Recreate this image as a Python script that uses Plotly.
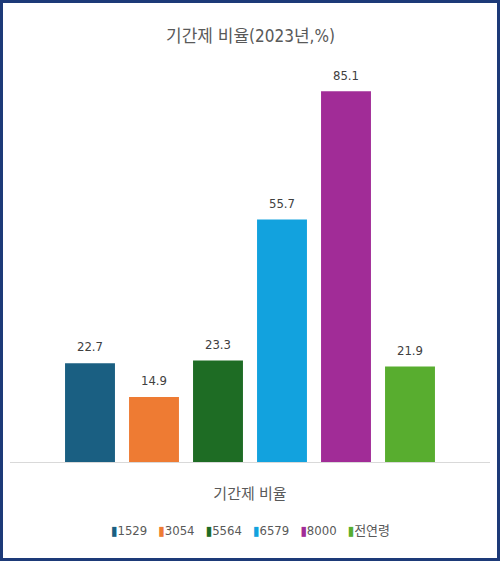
import plotly.graph_objects as go

# 기간제 비율 (2023년, %) by age group
category = "기간제 비율"
groups = ["1529", "3054", "5564", "6579", "8000", "전연령"]
values = [22.7, 14.9, 23.3, 55.7, 85.1, 21.9]
colors = ["#1a5f82", "#ee7b33", "#1e6c24", "#12a2de", "#a12c97", "#58ad2f"]

W, H = 501, 562
M_L, M_R, M_T, M_B = 10, 11, 70, 100
FONT = "DejaVu Sans Condensed, Noto Sans CJK KR, sans-serif"
GRAY = "#595959"

fig = go.Figure()
for g, v, c in zip(groups, values, colors):
    fig.add_trace(go.Bar(
        x=[category], y=[v], name=g, offsetgroup=g,
        marker=dict(color=c, line=dict(width=0)),
        showlegend=False,
    ))
# value labels: grouped text-only points sitting on top of each bar
for g, v in zip(groups, values):
    fig.add_trace(go.Scatter(
        x=[category], y=[v], offsetgroup=g, mode="markers+text",
        marker=dict(size=12, opacity=0), text=[f"{v:.1f}"],
        textposition="top center",
        textfont=dict(family=FONT, size=13, color="#404040"),
        cliponaxis=False, showlegend=False, hoverinfo="skip",
    ))

# legend line drawn as text: colored bar glyph + group name
legend_text = "&nbsp;&nbsp;&nbsp;".join(
    f"<span style='color:{c}'>▮</span>{g}" for g, c in zip(groups, colors)
)

plot_w = W - M_L - M_R
fig.update_layout(
    width=W, height=H,
    margin=dict(l=M_L, r=M_R, t=M_T, b=M_B),
    paper_bgcolor="white", plot_bgcolor="white",
    barmode="group", bargap=0.2, bargroupgap=0.22,
    scattermode="group", scattergap=0.2,
    title=dict(text="기간제 비율(2023년,%)", x=0.5, xanchor="center",
               y=1 - 36 / H, yanchor="middle", yref="container",
               font=dict(family=FONT, size=17, color=GRAY)),
    xaxis=dict(showline=True, linecolor="#d9d9d9", linewidth=1,
               ticks="", showgrid=False, ticklabelstandoff=18,
               tickfont=dict(family=FONT, size=15, color=GRAY)),
    yaxis=dict(range=[0, 90], visible=False, showgrid=False, zeroline=False),
    annotations=[dict(text=legend_text, xref="paper", yref="paper",
                      x=0.5, y=-(530 - (H - M_B)) / (H - M_T - M_B),
                      xanchor="center", yanchor="middle", showarrow=False,
                      font=dict(family=FONT, size=13, color=GRAY))],
    shapes=[dict(type="rect", xref="paper", yref="paper",
                 x0=(1.5 - M_L) / plot_w, x1=(W - 2.5 - M_L) / plot_w,
                 y0=-(H - 2.5 - (H - M_B)) / (H - M_T - M_B),
                 y1=1 + (M_T - 1.5) / (H - M_T - M_B),
                 line=dict(color="#1d3a78", width=3), layer="above")],
)

fig.write_html("out.html")
